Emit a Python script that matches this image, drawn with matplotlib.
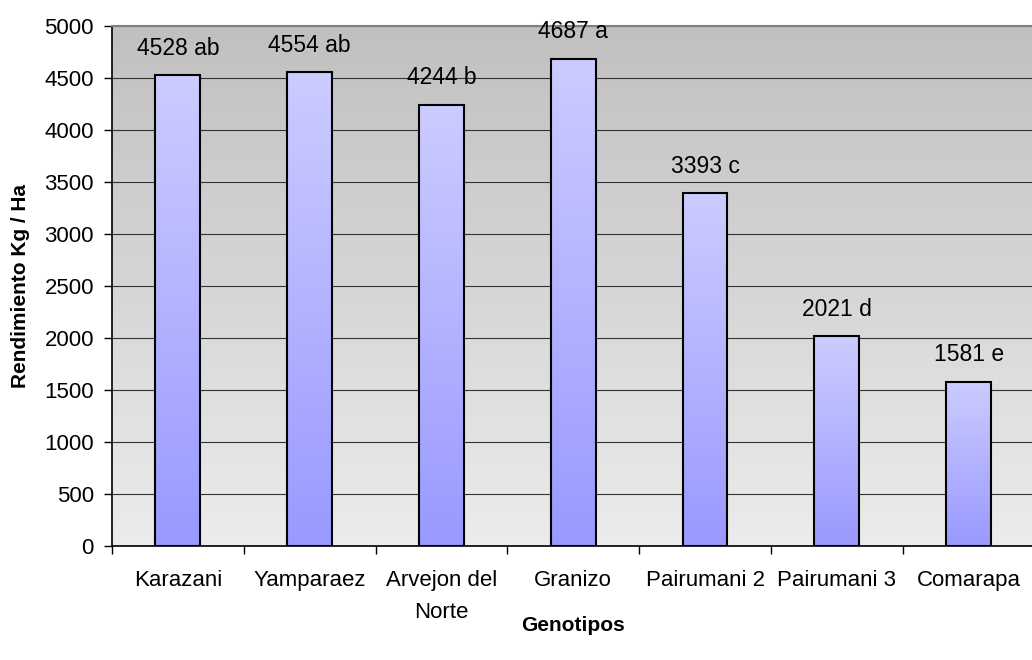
import numpy as np
import matplotlib.pyplot as plt
from matplotlib.colors import LinearSegmentedColormap

plt.rcParams['font.family'] = ['Liberation Sans', 'DejaVu Sans']

genotipos = ['Karazani', 'Yamparaez', 'Arvejon del\nNorte', 'Granizo',
             'Pairumani 2', 'Pairumani 3', 'Comarapa']
rendimiento = [4528, 4554, 4244, 4687, 3393, 2021, 1581]
letras = ['ab', 'ab', 'b', 'a', 'c', 'd', 'e']

fig = plt.figure(figsize=(10.32, 6.6), dpi=100)
ax = fig.add_axes([0.1085, 0.1727, 0.894, 0.7879])

x = np.arange(len(genotipos))
ax.set_xlim(-0.5, len(genotipos) - 0.5)
ax.set_ylim(0, 5000)

# fondo con degradado gris
fondo = LinearSegmentedColormap.from_list('fondo', ['#ececec', '#c0c0c0'])
grad = np.linspace(0, 1, 256).reshape(-1, 1)
ax.imshow(grad, cmap=fondo, origin='lower', aspect='auto',
          extent=[-0.5, len(genotipos) - 0.5, 0, 5000], zorder=0)

ax.set_yticks(np.arange(0, 5001, 500))
ax.grid(axis='y', color='#333333', linewidth=0.8, zorder=1)

# barras con degradado azul
barra_cmap = LinearSegmentedColormap.from_list('barra', ['#9999ff', '#ccccff'])
ancho = 0.34
bars = ax.bar(x, rendimiento, width=ancho, facecolor='none',
              edgecolor='black', linewidth=1.5, zorder=3)
for b in bars:
    x0, y0 = b.get_x(), b.get_y()
    w, h = b.get_width(), b.get_height()
    im = ax.imshow(grad, cmap=barra_cmap, origin='lower', aspect='auto',
                   extent=[x0, x0 + w, y0, y0 + h], zorder=2)
    im.set_clip_path(b)

for xi, v, l in zip(x, rendimiento, letras):
    ax.annotate(f'{v} {l}', (xi, v), xytext=(0, 11), textcoords='offset points',
                ha='center', va='bottom', fontsize=16.5)

ax.set_xlim(-0.5, len(genotipos) - 0.5)
ax.set_ylim(0, 5000)

ax.set_xticks(x)
ax.set_xticklabels(genotipos, fontsize=16, linespacing=1.7)
ax.set_xticks(np.arange(-0.5, len(genotipos)), minor=True)
ax.tick_params(axis='x', which='major', length=0, pad=17)
ax.tick_params(axis='x', which='minor', length=6, direction='out', width=1)
ax.tick_params(axis='y', length=6, width=1, labelsize=16, pad=7)

ax.spines['right'].set_visible(False)
ax.spines['top'].set_color('#808080')
ax.spines['top'].set_linewidth(1.5)
for s in ['left', 'bottom']:
    ax.spines[s].set_linewidth(1.2)

ax.set_xlabel('Genotipos', fontsize=15, fontweight='bold', labelpad=-5)
ax.set_ylabel('Rendimiento Kg / Ha', fontsize=15, fontweight='bold', labelpad=10)

fig.savefig('out.png', dpi=100)
